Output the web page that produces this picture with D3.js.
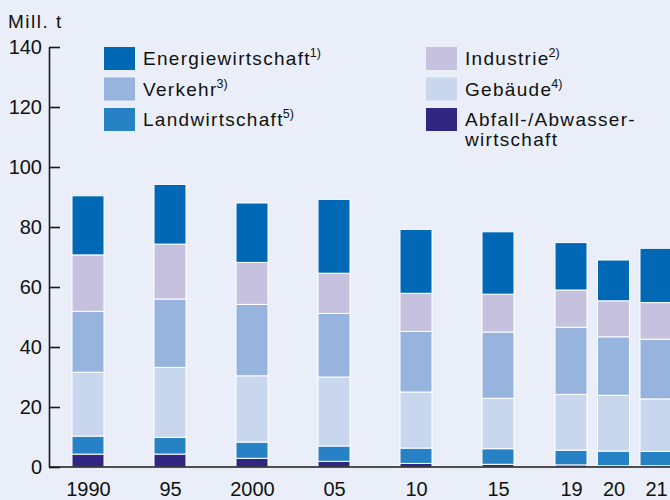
<!DOCTYPE html>
<html>
<head>
<meta charset="utf-8">
<script src="https://cdn.jsdelivr.net/npm/d3@7"></script>
<style>
  html, body { margin: 0; padding: 0; background: #eaeef8; }
  svg { display: block; font-family: "Liberation Sans", Arial, sans-serif; }
</style>
</head>
<body>
<div id="chart"></div>
<script>
// Treibhausgas-Emissionen nach Sektoren, Mill. t
var years  = [1990, 1995, 2000, 2005, 2010, 2015, 2019, 2020, 2021];
var labels = ["1990", "95", "2000", "05", "10", "15", "19", "20", "21"];

var abfall         = [4.3, 4.3, 2.9, 1.9, 1.2, 0.9, 0.7, 0.4, 0.4];
var landwirtschaft = [6.0, 5.6, 5.4, 5.1, 5.1, 5.2, 4.9, 4.9, 4.8];
var gebaeude       = [21.3, 23.3, 22.1, 23.0, 18.7, 16.8, 18.6, 18.6, 17.5];
var verkehr        = [20.3, 22.8, 23.8, 21.2, 20.2, 22.1, 22.4, 19.5, 19.9];
var industrie      = [18.8, 18.3, 14.0, 13.4, 12.7, 12.6, 12.4, 12.0, 12.2];
var energie        = [19.7, 19.9, 19.8, 24.6, 21.3, 20.8, 15.8, 13.6, 18.1];

var yTicks = [0, 20, 40, 60, 80, 100, 120, 140];

var keys = ["abfall", "landwirtschaft", "gebaeude", "verkehr", "industrie", "energie"];
var colors = {
    abfall: "#312783",
    landwirtschaft: "#2681c5",
    gebaeude: "#c9d7ee",
    verkehr: "#97b4de",
    industrie: "#c7c1e0",
    energie: "#0068b4"
};

// legend: column 1 then column 2
var legendItems = [
    {key: "energie", text: "Energiewirtschaft", sup: "1)", col: 0, row: 0},
    {key: "verkehr", text: "Verkehr", sup: "3)", col: 0, row: 1},
    {key: "landwirtschaft", text: "Landwirtschaft", sup: "5)", col: 0, row: 2},
    {key: "industrie", text: "Industrie", sup: "2)", col: 1, row: 0},
    {key: "gebaeude", text: "Gebäude", sup: "4)", col: 1, row: 1},
    {key: "abfall", text: "Abfall-/Abwasser-", text2: "wirtschaft", col: 1, row: 2}
];

var width = 670, height = 500;

var svg = d3.select("#chart").append("svg")
    .attr("width", width)
    .attr("height", height);

svg.append("rect")
    .attr("width", width).attr("height", height)
    .attr("fill", "#eaeef8");

var table = years.map(function(y, i) {
    return {
        year: y,
        abfall: abfall[i],
        landwirtschaft: landwirtschaft[i],
        gebaeude: gebaeude[i],
        verkehr: verkehr[i],
        industrie: industrie[i],
        energie: energie[i]
    };
});

var y = d3.scaleLinear().domain([0, 140]).range([467, 47]);
// time axis is squeezed at the end, so piecewise
var x = d3.scaleLinear()
    .domain([1990, 2015, 2019, 2021])
    .range([88, 498, 571, 656]);
var barW = 32;

var series = d3.stack().keys(keys)(table);

svg.selectAll(".layer")
    .data(series)
    .enter().append("g")
    .attr("class", "layer")
    .attr("fill", function(d) { return colors[d.key]; })
    .selectAll("rect")
    .data(function(d) { return d; })
    .enter().append("rect")
    .attr("x", function(d) { return x(d.data.year) - barW / 2; })
    .attr("y", function(d) { return y(d[1]); })
    .attr("width", barW)
    .attr("height", function(d) { return y(d[0]) - y(d[1]); })
    .attr("stroke", "#ffffff")
    .attr("stroke-width", 1);

// y axis
var yAxis = svg.append("g")
    .attr("transform", "translate(49,0)")
    .call(d3.axisLeft(y).tickValues(yTicks).tickSizeInner(-11).tickSizeOuter(0).tickPadding(7));
yAxis.selectAll("path, line").attr("stroke", "#1a1a1a").attr("stroke-width", 1.6);
yAxis.selectAll("text")
    .attr("font-size", 20)
    .attr("fill", "#111")
    .attr("font-family", "Liberation Sans, Arial, sans-serif");

// baseline
svg.append("line")
    .attr("x1", 49).attr("x2", width)
    .attr("y1", y(0)).attr("y2", y(0))
    .attr("stroke", "#1a1a1a").attr("stroke-width", 1.6);

// x labels
var xAxis = svg.append("g")
    .attr("transform", "translate(0," + y(0) + ")")
    .call(d3.axisBottom(x).tickValues(years).tickSize(0)
        .tickFormat(function(d, i) { return labels[i]; }));
xAxis.select(".domain").remove();
xAxis.selectAll("text")
    .attr("y", 29)
    .attr("dy", null)
    .attr("font-size", 20)
    .attr("fill", "#111")
    .attr("font-family", "Liberation Sans, Arial, sans-serif");

// unit
svg.append("text")
    .attr("x", 8).attr("y", 28)
    .attr("font-size", 19)
    .attr("letter-spacing", 1.5)
    .attr("fill", "#111")
    .text("Mill. t");

// legend
var legend = svg.selectAll(".legend")
    .data(legendItems)
    .enter().append("g")
    .attr("class", "legend")
    .attr("transform", function(d) {
        return "translate(" + (d.col ? 426 : 104) + "," + (47 + d.row * 30.5) + ")";
    });

legend.append("rect")
    .attr("width", 31).attr("height", 23)
    .attr("fill", function(d) { return colors[d.key]; });

var lt = legend.append("text")
    .attr("x", 39).attr("y", 18)
    .attr("font-size", 19)
    .attr("letter-spacing", 1.3)
    .attr("fill", "#111");
lt.append("tspan").text(function(d) { return d.text; });
lt.filter(function(d) { return d.sup; })
    .append("tspan")
    .attr("font-size", 12.5)
    .attr("letter-spacing", 0)
    .attr("dx", -1)
    .attr("dy", -8)
    .text(function(d) { return d.sup; });
lt.filter(function(d) { return d.text2; })
    .append("tspan")
    .attr("x", 39).attr("dy", 20)
    .text(function(d) { return d.text2; });
</script>
</body>
</html>
